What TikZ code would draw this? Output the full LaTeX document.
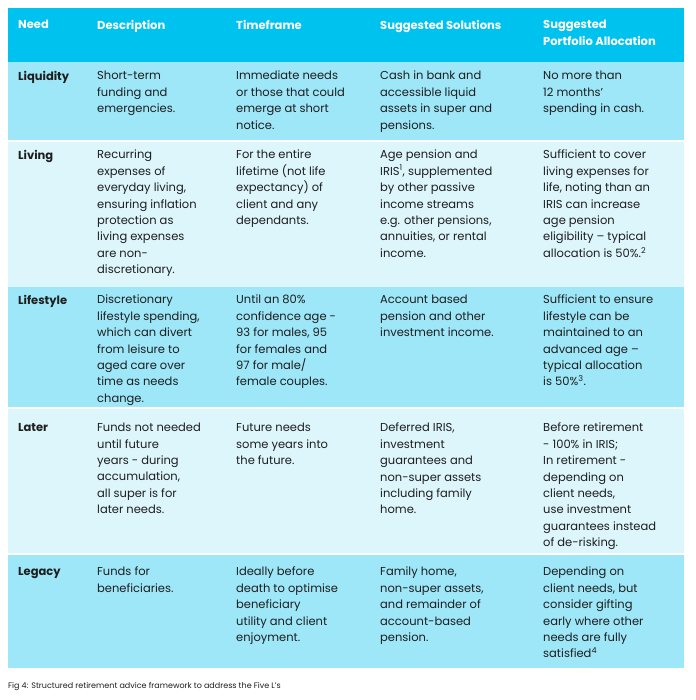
\documentclass[tikz,border=0pt]{standalone}
\usepackage{fontspec}
\setmainfont{Poppins}
\definecolor{hdr}{HTML}{00C2EF}
\definecolor{rowA}{HTML}{9DE7F8}
\definecolor{rowB}{HTML}{DDF6FC}
\definecolor{txt}{HTML}{1E1E1E}
\begin{document}
\begin{tikzpicture}[x=1pt,y=-1pt,
  cell/.style={anchor=north west,inner sep=0pt,align=left,text=txt,font=\fontsize{11.5}{16.4}\selectfont},
  need/.style={cell,font=\fontsize{11.5}{16.4}\selectfont\bfseries},
  head/.style={cell,text=white,font=\fontsize{11.5}{16.4}\selectfont\bfseries}]
\useasboundingbox (0,0) rectangle (695,700);
\fill[white] (0,0) rectangle (695,700);
\fill[hdr] (8,8) rectangle (684,62);
\fill[rowA] (8,62) rectangle (684,140);
\fill[rowB] (8,142) rectangle (684,287);
\fill[rowA] (8,287) rectangle (684,407);
\fill[rowB] (8,409) rectangle (684,553);
\fill[rowA] (8,555) rectangle (684,668);
\def\cA{18}\def\cB{97}\def\cC{236}\def\cD{380}\def\cE{543}
% header
\node[head] (h1) at (\cA,20) {Need};
\node[head] (h2) at (\cB,20) {Description};
\node[head] (h3) at (\cC,20) {Timeframe};
\node[head] (h4) at (\cD,20) {Suggested Solutions};
\begin{scope}
\clip (8,8) rectangle (684,62);
\node[head] (h5) at (\cE,20) {Suggested\\Portfolio Allocation};
\end{scope}
% Liquidity
\node[need] (n1) at (\cA,71) {Liquidity};
\node[cell] (d1) at (\cB,71) {Short-term\\funding and\\emergencies.};
\node[cell] (t1) at (\cC,71) {Immediate needs\\or those that could\\emerge at short\\notice.};
\node[cell] (s1) at (\cD,71) {Cash in bank and\\accessible liquid\\assets in super and\\pensions.};
\node[cell] (a1) at (\cE,71) {No more than\\12 months’\\spending in cash.};
% Living
\node[need] (n2) at (\cA,150) {Living};
\node[cell] (d2) at (\cB,150) {Recurring\\expenses of\\everyday living,\\ensuring inflation\\protection as\\living expenses\\are non-\\discretionary.};
\node[cell] (t2) at (\cC,150) {For the entire\\lifetime (not life\\expectancy) of\\client and any\\dependants.};
\node[cell] (s2) at (\cD,150) {Age pension and\\IRIS\textsuperscript{1}, supplemented\\by other passive\\income streams\\e.g. other pensions,\\annuities, or rental\\income.};
\node[cell] (a2) at (\cE,150) {Sufficient to cover\\living expenses for\\life, noting than an\\IRIS can increase\\age pension\\eligibility – typical\\allocation is 50\%.\textsuperscript{2}};
% Lifestyle
\node[need] (n3) at (\cA,295) {Lifestyle};
\node[cell] (d3) at (\cB,295) {Discretionary\\lifestyle spending,\\which can divert\\from leisure to\\aged care over\\time as needs\\change.};
\node[cell] (t3) at (\cC,295) {Until an 80\%\\confidence age -\\93 for males, 95\\for females and\\97 for male/\\female couples.};
\node[cell] (s3) at (\cD,295) {Account based\\pension and other\\investment income.};
\node[cell] (a3) at (\cE,295) {Sufficient to ensure\\lifestyle can be\\maintained to an\\advanced age –\\typical allocation\\is 50\%\textsuperscript{3}.};
% Later
\node[need] (n4) at (\cA,423) {Later};
\node[cell] (d4) at (\cB,423) {Funds not needed\\until future\\years - during\\accumulation,\\all super is for\\later needs.};
\node[cell] (t4) at (\cC,423) {Future needs\\some years into\\the future.};
\node[cell] (s4) at (\cD,423) {Deferred IRIS,\\investment\\guarantees and\\non-super assets\\including family\\home.};
\node[cell] (a4) at (\cE,423) {Before retirement\\- 100\% in IRIS;\\In retirement -\\depending on\\client needs,\\use investment\\guarantees instead\\of de-risking.};
% Legacy
\node[need] (n5) at (\cA,567) {Legacy};
\node[cell] (d5) at (\cB,567) {Funds for\\beneficiaries.};
\node[cell] (t5) at (\cC,567) {Ideally before\\death to optimise\\beneficiary\\utility and client\\enjoyment.};
\node[cell] (s5) at (\cD,567) {Family home,\\non-super assets,\\and remainder of\\account-based\\pension.};
\node[cell] (a5) at (\cE,567) {Depending on\\client needs, but\\consider gifting\\early where other\\needs are fully\\satisfied\textsuperscript{4}};
\node[cell,font=\fontsize{8}{10}\selectfont] (cap) at (8,682) {Fig 4: Structured retirement advice framework to address the Five L’s};
\end{tikzpicture}
\end{document}
